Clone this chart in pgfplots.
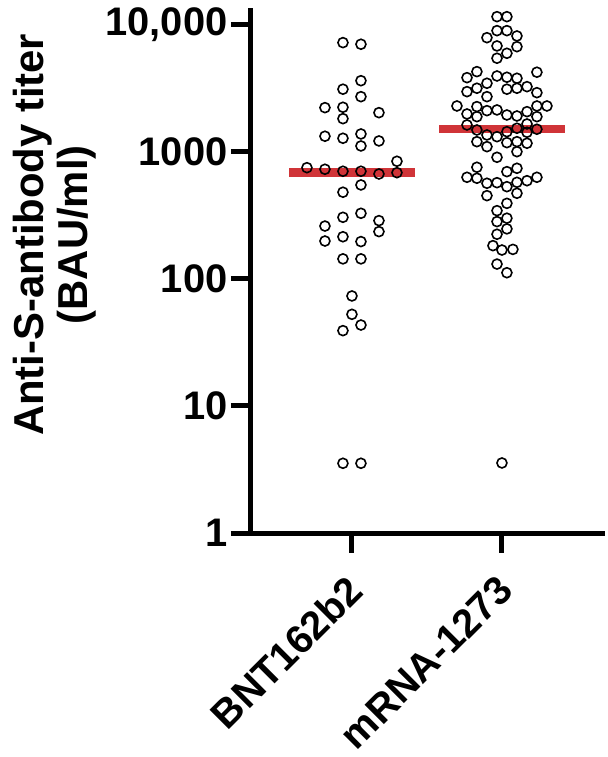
\documentclass[border=0pt]{standalone}
\usepackage{pgfplots}
\pgfplotsset{compat=1.18}
\usepackage{fontspec}
\setmainfont{Liberation Sans}
\definecolor{medred}{RGB}{208,52,56}

\begin{document}
\begin{tikzpicture}[x=1bp,y=1bp]
\path[use as bounding box] (-251,-224) rectangle (357,533);
\begin{axis}[
  at={(0,0)}, anchor=south west,
  scale only axis, width=354bp, height=525bp,
  ymode=log, ymin=1, ymax=13600,
  xmin=-0.673, xmax=1.687,
  axis x line*=bottom, axis y line*=left,
  axis line style={line width=5bp, -},
  clip=false,
  xtick={0,1}, xticklabels={BNT162b2,mRNA-1273},
  ytick={1,10,100,1000,10000}, yticklabels={1,10,100,1000,{10,000}},
  yminorticks=false,
  tick style={line width=5bp, black},
  major tick length=20bp, tick align=outside,
  tick label style={font=\bfseries\fontsize{40}{40}\selectfont},
  xticklabel shift=28bp,
  xticklabel style={xshift=6bp, rotate=45, anchor=east},
  ylabel={Anti-S-antibody titer\\(BAU/ml)},
  ylabel style={align=center, font=\bfseries\fontsize{42}{44}\selectfont,
    at={(axis description cs:-0.555,0.568)}, anchor=center},
]
\addplot[medred, line width=8.5bp] coordinates {(-0.417,687) (0.417,687)};
\addplot[medred, line width=8.5bp] coordinates {(0.583,1510) (1.417,1510)};
% BNT162b2
\addplot[only marks, mark=o, mark size=5bp, mark options={line width=1.6bp, black}] coordinates {
(-0.06,7260) (0.06,7050) (0.06,3640) (-0.06,3120) (0.06,2725)
(-0.18,2233) (-0.06,2249) (0.18,2039) (-0.06,1829) (-0.18,1330)
(-0.06,1282) (0.06,1386) (0.06,1115) (0.18,1221) (0.30,845)
(-0.30,752) (-0.18,731) (-0.06,705) (0.06,705) (0.18,671)
(0.30,687) (-0.06,482) (0.06,550) (-0.06,306) (0.06,329)
(0.18,288) (0.18,236) (-0.18,261) (-0.18,199) (-0.06,215)
(0.06,197) (-0.06,144) (0.06,144) (0,73.5) (0,52.7)
(0.06,43.4) (-0.06,39.2) (-0.06,3.54) (0.06,3.54)
};
% mRNA-1273
\addplot[only marks, mark=o, mark size=5bp, mark options={line width=1.6bp, black}] coordinates {
(0.967,11620) (1.033,11620) (0.967,9020) (1.033,9020) (0.9,7940)
(1.1,8190) (0.967,6835) (1.1,6745) (1.033,5985) (0.967,5470)
(0.833,4290) (0.767,3846) (0.967,3965) (1.033,3875) (1.1,3805)
(1.233,4245) (0.9,3475) (0.767,2985) (0.833,3175) (1.033,3120)
(1.1,3175) (1.167,3268) (1.233,2930) (0.9,2725)
(0.70,2302) (0.767,1992) (0.833,2275) (0.833,1897) (0.9,2115)
(0.967,2142) (1.033,1955) (1.1,1920) (1.167,2076) (1.233,2302)
(1.3,2302) (1.233,1897)
(0.767,1632) (0.833,1490) (0.9,1361) (0.967,1319) (1.033,1444)
(1.1,1537) (1.167,1661) (1.167,1429) (1.233,1510)
(0.833,1205) (0.9,1101) (1.033,1184) (1.1,1205) (1.167,1171)
(1.1,1005) (0.967,908)
(0.833,758) (0.767,632) (0.833,621) (0.9,567) (0.967,573)
(1.033,700) (1.1,744) (1.033,533) (1.1,577) (1.167,594)
(1.233,632) (0.9,453) (1.1,473) (1.033,394) (0.967,345)
(1.033,301) (0.967,283) (1.033,248) (0.967,225) (0.94,183)
(1.0,169) (1.073,171) (0.967,131) (1.033,112) (1.0,3.56)
};
\end{axis}
\end{tikzpicture}
\end{document}
